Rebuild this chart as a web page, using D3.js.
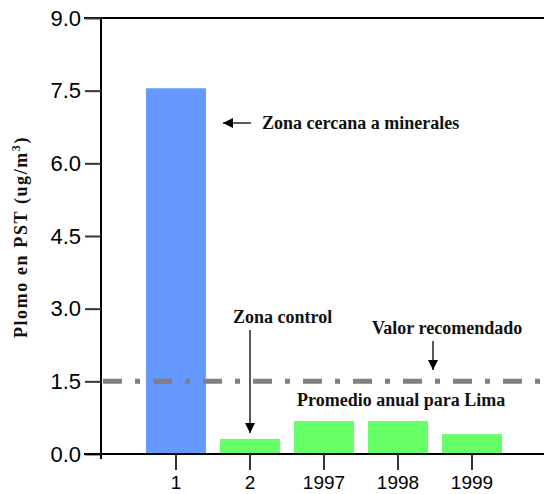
<!DOCTYPE html>
<html>
<head>
<meta charset="utf-8">
<script src="https://d3js.org/d3.v7.min.js"></script>
<style>
body { margin: 0; background: white; }
.tick text { font-family: "Liberation Sans", Arial, sans-serif; fill: black; }
.note { font-family: "Liberation Serif", "Times New Roman", serif; font-weight: bold; font-size: 18px; fill: #111; }
</style>
</head>
<body>
<svg width="544" height="494"></svg>
<script>
// data
var categories = ["1", "2", "1997", "1998", "1999"];
var values = [7.55, 0.31, 0.68, 0.68, 0.41];
var colors = ["#6699ff", "#66ff66", "#66ff66", "#66ff66", "#66ff66"];
var yTicks = [0, 1.5, 3, 4.5, 6, 7.5, 9];
var refValue = 1.5;

var svg = d3.select("svg");

var x = d3.scaleBand().domain(categories).range([139, 509])
    .paddingInner(0.19).paddingOuter(0.095);
var y = d3.scaleLinear().domain([0, 9]).range([454, 18]);

// bars
svg.append("g").selectAll("rect")
  .data(values)
  .enter()
  .append("rect")
    .attr("x", function (d, i) { return x(categories[i]); })
    .attr("y", function (d) { return y(d); })
    .attr("width", x.bandwidth())
    .attr("height", function (d) { return y(0) - y(d); })
    .attr("fill", function (d, i) { return colors[i]; });

// top frame line
svg.append("line")
    .attr("x1", 84).attr("x2", 544)
    .attr("y1", y(9)).attr("y2", y(9))
    .style("stroke", "black").style("stroke-width", 2);

// y axis
var yAxis = svg.append("g")
    .attr("transform", "translate(101,0)")
    .call(d3.axisLeft(y).tickValues(yTicks).tickFormat(d3.format(".1f")).tickSize(16).tickPadding(4));
yAxis.select(".domain").attr("d", "M0," + y(9) + "V" + (y(0) + 5)).style("stroke-width", 2);
yAxis.selectAll(".tick line").style("stroke", "#333").style("stroke-width", 2);
yAxis.selectAll(".tick text").style("font-size", "22px");

// x axis
var xAxis = svg.append("g")
    .attr("transform", "translate(0," + y(0) + ")")
    .call(d3.axisBottom(x).tickSize(16).tickPadding(6));
xAxis.select(".domain").attr("d", "M84,0H544").style("stroke-width", 2);
xAxis.selectAll(".tick line").style("stroke", "#333").style("stroke-width", 2);
xAxis.selectAll(".tick text").style("font-size", "19px");

// recommended value line
svg.append("line")
    .attr("x1", 103).attr("x2", 544)
    .attr("y1", y(refValue)).attr("y2", y(refValue))
    .style("stroke", "#808080").style("stroke-width", 5)
    .style("stroke-dasharray", "19,13,5,13");

// arrowhead
svg.append("defs").append("marker")
    .attr("id", "head")
    .attr("viewBox", "0 0 10 10")
    .attr("refX", 10).attr("refY", 5)
    .attr("markerWidth", 10).attr("markerHeight", 10)
    .attr("markerUnits", "userSpaceOnUse")
    .attr("orient", "auto")
  .append("path")
    .attr("d", "M0,0L10,5L0,10Z")
    .attr("fill", "black");

function arrow(x1, y1, x2, y2) {
  svg.append("line")
      .attr("x1", x1).attr("y1", y1).attr("x2", x2).attr("y2", y2)
      .style("stroke", "black").style("stroke-width", 1.3)
      .attr("marker-end", "url(#head)");
}

var bx1 = x("1") + x.bandwidth();
var c2 = x("2") + x.bandwidth() / 2;

arrow(bx1 + 45, 123, bx1 + 17, 123);
svg.append("text").attr("class", "note").attr("x", 262).attr("y", 129)
    .text("Zona cercana a minerales");

arrow(c2, 330, c2, y(values[1]) - 6);
svg.append("text").attr("class", "note").attr("x", 233).attr("y", 323)
    .text("Zona control");

arrow(433, 341, 433, 370);
svg.append("text").attr("class", "note").attr("x", 372).attr("y", 334)
    .text("Valor recomendado");

svg.append("text").attr("class", "note").attr("x", 297).attr("y", 406)
    .text("Promedio anual para Lima");

// y label
var yl = svg.append("text").attr("class", "note")
    .attr("transform", "translate(27,237) rotate(-90)")
    .style("text-anchor", "middle").style("font-size", "18px").style("letter-spacing", "1.6px");
yl.append("tspan").text("Plomo en PST (ug/m");
yl.append("tspan").attr("dy", -7).style("font-size", "12px").text("3");
yl.append("tspan").attr("dy", 7).text(")");
</script>
</body>
</html>
